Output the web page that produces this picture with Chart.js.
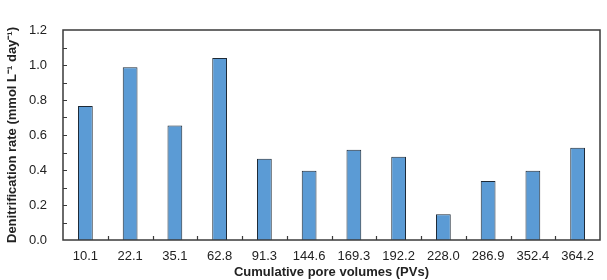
<!DOCTYPE html>
<html>
<head>
<meta charset="utf-8">
<script src="https://cdn.jsdelivr.net/npm/chart.js@4.4.0/dist/chart.umd.min.js"></script>
<style>
  html, body { margin: 0; padding: 0; background: #fff; }
  #wrap { width: 607px; height: 280px; position: relative; }
</style>
</head>
<body>
<div id="wrap"><canvas id="denitChart"></canvas></div>
<script>
// Cumulative pore volumes and denitrification rates
const porevolumes = ['10.1', '22.1', '35.1', '62.8', '91.3', '144.6', '169.3', '192.2', '228.0', '286.9', '352.4', '364.2'];
const denitRates = [0.766, 0.987, 0.655, 1.04, 0.465, 0.396, 0.516, 0.476, 0.147, 0.337, 0.396, 0.527];
const yTicks = [0, 0.2, 0.4, 0.6, 0.8, 1.0, 1.2];

const inkColor = '#222';
const axisColor = '#3a3a3a';

// frame + inward tick marks like the original figure
const framePlugin = {
  id: 'frame',
  afterDraw(chart) {
    const c = chart.ctx;
    const a = chart.chartArea;
    const x = chart.scales.x;
    const y = chart.scales.y;
    c.save();
    c.strokeStyle = axisColor;
    c.lineWidth = 1.5;
    c.strokeRect(a.left, a.top, a.right - a.left, a.bottom - a.top);
    c.lineWidth = 1.2;
    c.beginPath();
    // minor + major ticks on y every 0.1
    for (let v = 0.1; v < 1.2; v += 0.1) {
      const py = Math.round(y.getPixelForValue(v)) + 0.5;
      c.moveTo(a.left, py);
      c.lineTo(a.left + 4, py);
    }
    // x ticks between categories
    for (let i = 1; i < porevolumes.length; i++) {
      const px = Math.round((x.getPixelForTick(i - 1) + x.getPixelForTick(i)) / 2) + 0.5;
      c.moveTo(px, a.bottom);
      c.lineTo(px, a.bottom - 4);
    }
    c.stroke();
    c.restore();
  }
};

const ctx = document.getElementById('denitChart').getContext('2d');
const denitChart = new Chart(ctx, {
  type: 'bar',
  data: {
    labels: porevolumes,
    datasets: [{
      data: denitRates,
      backgroundColor: '#5b9bd5',
      borderColor: '#1e2a36',
      borderWidth: 1,
      barPercentage: 0.33,
      categoryPercentage: 1.0
    }]
  },
  options: {
    responsive: true,
    maintainAspectRatio: false,
    animation: false,
    layout: { padding: { left: 0, top: 30, right: 7, bottom: 0 } },
    plugins: {
      legend: { display: false },
      tooltip: { enabled: false }
    },
    scales: {
      x: {
        grid: { display: false },
        border: { display: false },
        ticks: {
          color: inkColor,
          font: { family: 'Liberation Sans, Arial, sans-serif', size: 13 },
          padding: 1,
          maxRotation: 0,
          autoSkip: false
        },
        title: {
          display: true,
          text: 'Cumulative pore volumes (PVs)',
          color: inkColor,
          font: { family: 'Liberation Sans, Arial, sans-serif', size: 13, weight: 'bold' },
          padding: { top: 2, bottom: 0 }
        },
        afterFit(scale) { scale.height = 40; }
      },
      y: {
        min: 0,
        max: 1.2,
        afterBuildTicks(scale) { scale.ticks = yTicks.map(v => ({ value: v })); },
        grid: { display: false },
        border: { display: false },
        ticks: {
          color: inkColor,
          font: { family: 'Liberation Sans, Arial, sans-serif', size: 13 },
          padding: 8,
          callback: v => v.toFixed(1)
        },
        title: {
          display: true,
          text: 'Denitrification rate (mmol L⁻¹ day⁻¹)',
          color: inkColor,
          font: { family: 'Liberation Sans, Arial, sans-serif', size: 13, weight: 'bold' },
          padding: { top: 5, bottom: 0 }
        },
        afterFit(scale) { scale.width = 63; }
      }
    }
  },
  plugins: [framePlugin]
});
</script>
</body>
</html>
